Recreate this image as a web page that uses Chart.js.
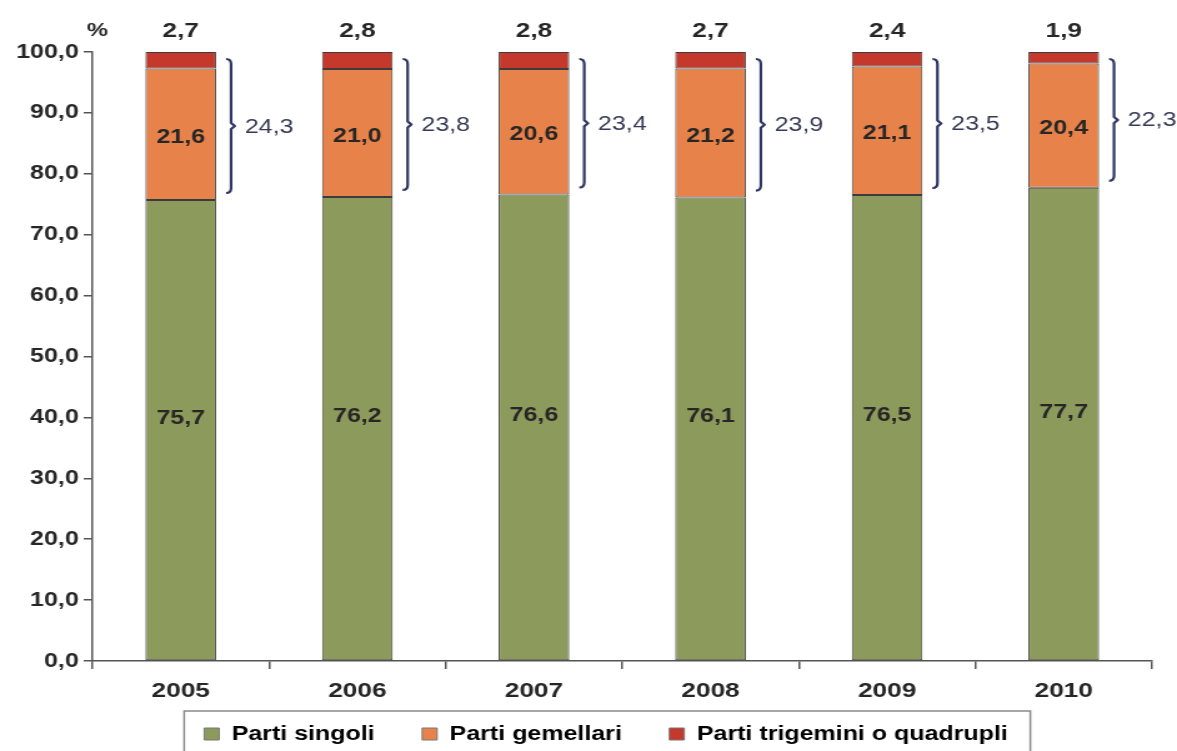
<!DOCTYPE html>
<html>
<head>
<meta charset="utf-8">
<script src="https://cdn.jsdelivr.net/npm/chart.js@4.4.1/dist/chart.umd.min.js"></script>
<style>
  html, body { margin: 0; padding: 0; background: #fff; }
  #wrap { width: 1177px; height: 751px; }
  /* the original picture is stretched sideways, so the canvas is too */
  #partiChart { width: 1177px; height: 751px; display: block; }
</style>
</head>
<body>
<div id="wrap"><canvas id="partiChart" width="942" height="751" style="width:1177px;height:751px"></canvas></div>
<script>
// data (percent of births)
const anni = ['2005', '2006', '2007', '2008', '2009', '2010'];
const singoli = [75.7, 76.2, 76.6, 76.1, 76.5, 77.7];
const gemellari = [21.6, 21.0, 20.6, 21.2, 21.1, 20.4];
const trigemini = [2.7, 2.8, 2.8, 2.7, 2.4, 1.9];
const multipli = [24.3, 23.8, 23.4, 23.9, 23.5, 22.3];
const yTicks = [0, 10, 20, 30, 40, 50, 60, 70, 80, 90, 100];

const FONT = '"Liberation Sans", Arial, sans-serif';
const fmt = v => v.toFixed(1).replace('.', ',');

// labels inside bars, on top, the brackets and the % sign
const annotations = {
  id: 'annotations',
  afterDatasetsDraw(chart) {
    const ctx = chart.ctx;
    const y = chart.scales.y;
    ctx.save();
    ctx.textAlign = 'center';
    ctx.textBaseline = 'middle';
    ctx.fillStyle = '#262626';
    ctx.font = 'bold 20px ' + FONT;
    [0, 1].forEach(di => {
      const meta = chart.getDatasetMeta(di);
      const vals = chart.data.datasets[di].data;
      meta.data.forEach((bar, i) => {
        const mid = (bar.y + bar.base) / 2;
        ctx.fillText(fmt(vals[i]), bar.x, mid + (di === 0 ? -12 : 3));
      });
    });
    // values of top segment written above the bars
    const meta2 = chart.getDatasetMeta(2);
    ctx.font = 'bold 21px ' + FONT;
    meta2.data.forEach((bar, i) => {
      ctx.fillText(fmt(trigemini[i]), bar.x, bar.y - 21);
    });
    // brackets
    ctx.strokeStyle = '#2f3563';
    ctx.lineWidth = 2.2;
    ctx.lineJoin = 'round';
    meta2.data.forEach((bar, i) => {
      const x0 = bar.x + bar.width / 2 + 12;
      const yTop = y.getPixelForValue(100) + 7;
      const yBot = y.getPixelForValue(singoli[i]) - 7;
      const yMid = (yTop + yBot) / 2;
      ctx.beginPath();
      ctx.moveTo(x0 - 4, yTop);
      ctx.quadraticCurveTo(x0, yTop, x0, yTop + 5);
      ctx.lineTo(x0, yMid - 3);
      ctx.lineTo(x0 + 3, yMid);
      ctx.lineTo(x0, yMid + 3);
      ctx.lineTo(x0, yBot - 5);
      ctx.quadraticCurveTo(x0, yBot, x0 - 4, yBot);
      ctx.stroke();
      ctx.fillStyle = '#363a55';
      ctx.font = '20px ' + FONT;
      ctx.textAlign = 'left';
      ctx.fillText(fmt(multipli[i]), x0 + 11, yMid + 1);
    });
    ctx.fillStyle = '#262626';
    ctx.font = 'bold 19px ' + FONT;
    ctx.textAlign = 'center';
    ctx.fillText('%', 78, 31);
    ctx.restore();
  },
  afterDraw(chart) {
    // frame around the legend
    const lg = chart.legend;
    if (!lg || !lg.legendHitBoxes.length) return;
    const boxes = lg.legendHitBoxes;
    const left = Math.min(...boxes.map(b => b.left)) - 16;
    const right = Math.max(...boxes.map(b => b.left + b.width)) + 18;
    const ctx = chart.ctx;
    ctx.save();
    ctx.strokeStyle = '#8a8a8a';
    ctx.lineWidth = 1.5;
    ctx.strokeRect(left, 711, right - left, chart.height);
    ctx.restore();
  }
};

// tick labels are allowed to run outside their (narrow) scale boxes
const noClip = scale => { scale._computeLabelArea = () => undefined; };

const ctx = document.getElementById('partiChart').getContext('2d');
new Chart(ctx, {
  type: 'bar',
  data: {
    labels: anni,
    datasets: [
      { label: 'Parti singoli', data: singoli, backgroundColor: '#8c9b5c' },
      { label: 'Parti gemellari', data: gemellari, backgroundColor: '#e7834a' },
      { label: 'Parti trigemini o quadrupli', data: trigemini, backgroundColor: '#c5392c' }
    ].map(d => Object.assign(d, {
      borderColor: '#3c3c3c',
      borderWidth: 1,
      borderSkipped: false,
      categoryPercentage: 0.4,
      barPercentage: 1
    }))
  },
  options: {
    responsive: false,
    animation: false,
    devicePixelRatio: 1,
    layout: { padding: { top: 52, right: 20, left: 48, bottom: 0 } },
    plugins: {
      tooltip: { enabled: false },
      legend: {
        position: 'bottom',
        maxHeight: 65,
        labels: {
          boxWidth: 12,
          boxHeight: 12,
          padding: 38,
          color: '#222',
          font: { family: FONT, size: 20, weight: 'bold' },
          generateLabels(chart) {
            return chart.data.datasets.map((d, i) => ({
              text: d.label,
              fillStyle: d.backgroundColor,
              strokeStyle: '#777',
              lineWidth: 1,
              datasetIndex: i
            }));
          }
        }
      }
    },
    scales: {
      x: {
        stacked: true,
        afterFit(scale) { scale.height = 25; noClip(scale); },
        grid: { display: true, drawOnChartArea: false, drawTicks: true, tickLength: 8, offset: true, color: '#555', lineWidth: 1.5 },
        border: { display: true, color: '#555', width: 1.5 },
        ticks: { color: '#262626', padding: 10, font: { family: FONT, size: 21, weight: 'bold' } }
      },
      y: {
        stacked: true,
        min: 0,
        max: 100,
        afterFit(scale) { scale.width = 26; noClip(scale); },
        afterBuildTicks(scale) { scale.ticks = yTicks.map(v => ({ value: v })); },
        grid: { display: true, drawOnChartArea: false, drawTicks: true, tickLength: 7, color: '#555', lineWidth: 1.5 },
        border: { display: true, color: '#555', width: 1.5 },
        ticks: {
          color: '#262626',
          padding: 4,
          font: { family: FONT, size: 20, weight: 'bold' },
          callback: v => fmt(v)
        }
      }
    }
  },
  plugins: [annotations]
});
</script>
</body>
</html>
